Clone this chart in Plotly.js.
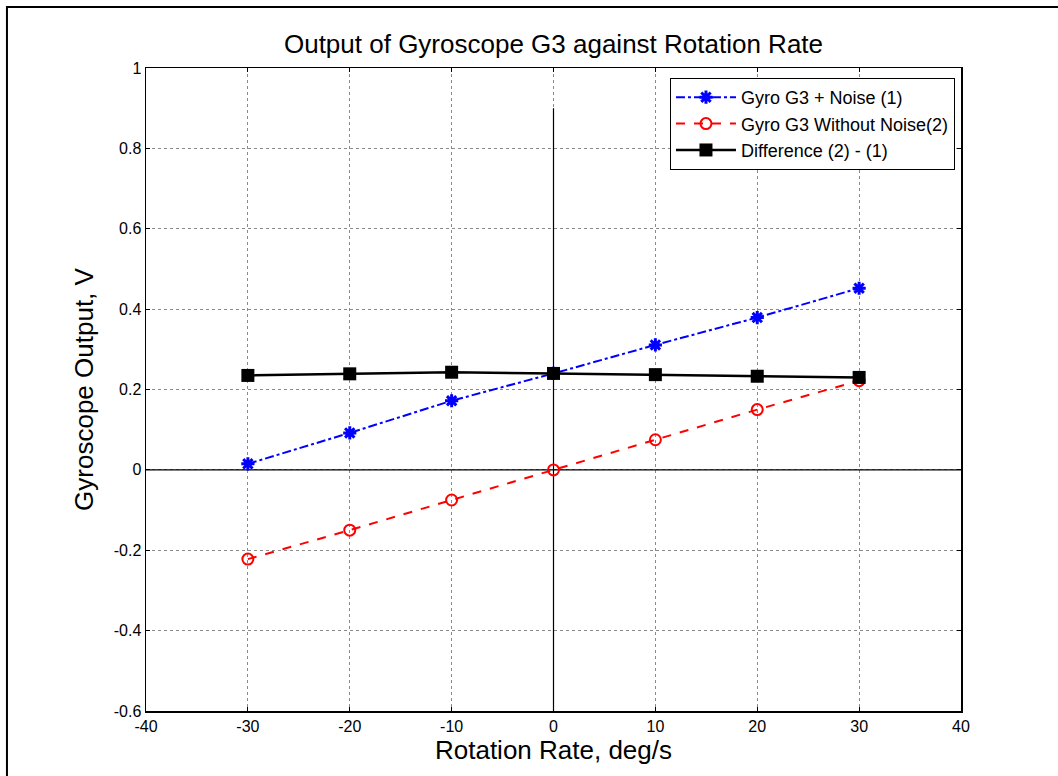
<!DOCTYPE html>
<html>
<head>
<meta charset="utf-8">
<script src="https://cdn.plot.ly/plotly-3.0.1.min.js"></script>
<style>
  html, body { margin: 0; padding: 0; background: #fff; }
  #chart { width: 1058px; height: 776px; }
</style>
</head>
<body>
<div id="chart"></div>
<script>
// Rotation rates (deg/s)
const rates = [-30, -20, -10, 0, 10, 20, 30];

// Gyroscope G3 output with noise (V)
const withNoise = [0.015, 0.092, 0.172, 0.240, 0.311, 0.379, 0.452];

// Gyroscope G3 output without noise (V)
const withoutNoise = [-0.222, -0.150, -0.075, 0.000, 0.075, 0.150, 0.222];

// Difference between the two outputs (V)
const difference = [0.235, 0.239, 0.243, 0.240, 0.237, 0.233, 0.230];

// Axis ticks
const xTicks = [-40, -30, -20, -10, 0, 10, 20, 30, 40];
const xTickText = ['-40', '-30', '-20', '-10', '0', '10', '20', '30', '40'];
const yTicks = [-0.6, -0.4, -0.2, 0, 0.2, 0.4, 0.6, 0.8, 1];
const yTickText = ['-0.6', '-0.4', '-0.2', '0', '0.2', '0.4', '0.6', '0.8', '1'];

const fontFamily = 'Liberation Sans, Arial, sans-serif';

const traces = [
  {
    x: rates, y: withNoise, name: 'Gyro G3 + Noise (1)',
    mode: 'lines+markers',
    line: { color: '#0000ff', width: 2, dash: 'dashdot' },
    marker: { symbol: 'asterisk-open', size: 11, color: '#0000ff', line: { color: '#0000ff', width: 3 } }
  },
  {
    x: rates, y: withoutNoise, name: 'Gyro G3 Without Noise(2)',
    mode: 'lines+markers',
    line: { color: '#ff0000', width: 2, dash: 'dash' },
    marker: { symbol: 'circle-open', size: 11, color: '#ff0000', line: { color: '#ff0000', width: 2 } }
  },
  {
    x: rates, y: difference, name: 'Difference (2) - (1)',
    mode: 'lines+markers',
    line: { color: '#000000', width: 2.5 },
    marker: { symbol: 'square', size: 13, color: '#000000' }
  }
];

const axisCommon = {
  showline: true, mirror: 'ticks', linecolor: '#000', linewidth: 1.5,
  ticks: 'inside', ticklen: 4, tickcolor: '#000', tickwidth: 1,
  showgrid: true, gridcolor: '#8a8a8a', griddash: 'dot', gridwidth: 1,
  zeroline: false,
  tickfont: { family: fontFamily, size: 16, color: '#000' },
  tickmode: 'array'
};

const layout = {
  width: 1058, height: 776,
  paper_bgcolor: '#fff', plot_bgcolor: '#fff',
  margin: { l: 146, r: 97, t: 68, b: 65 },
  showlegend: true,
  title: {
    text: 'Output of Gyroscope G3 against Rotation Rate',
    font: { family: fontFamily, size: 26, color: '#000' },
    x: 0.5, xanchor: 'center', xref: 'paper',
    y: 1 - 44 / 776, yanchor: 'middle'
  },
  xaxis: Object.assign({}, axisCommon, {
    range: [-40, 40], tickvals: xTicks, ticktext: xTickText,
    title: { text: 'Rotation Rate, deg/s', font: { family: fontFamily, size: 26, color: '#000' }, standoff: 4 }
  }),
  yaxis: Object.assign({}, axisCommon, {
    range: [-0.6, 1], tickvals: yTicks, ticktext: yTickText,
    title: { text: 'Gyroscope Output, V', font: { family: fontFamily, size: 26, color: '#000' }, standoff: 12 }
  }),
  legend: {
    x: 0.9926, xanchor: 'right', y: 0.9845, yanchor: 'top',
    bgcolor: '#fff', bordercolor: '#000', borderwidth: 1,
    font: { family: fontFamily, size: 18, color: '#000' },
    tracegroupgap: 0, itemwidth: 60
  },
  shapes: [
    // reference axes through the origin
    { type: 'line', xref: 'x', yref: 'y', x0: 0, x1: 0, y0: -0.6, y1: 0.9, line: { color: '#000', width: 1.2 }, layer: 'between' },
    { type: 'line', xref: 'x', yref: 'y', x0: -40, x1: 40, y0: 0, y1: 0, line: { color: '#000', width: 1.2 }, layer: 'between' },
    // figure frame
    { type: 'rect', xref: 'paper', yref: 'paper', x0: -0.1706, x1: 1.3, y0: -0.3, y1: 1.0949, line: { color: '#000', width: 2 }, fillcolor: 'rgba(0,0,0,0)' }
  ]
};

Plotly.newPlot('chart', traces, layout, { displayModeBar: false, staticPlot: true });
</script>
</body>
</html>
